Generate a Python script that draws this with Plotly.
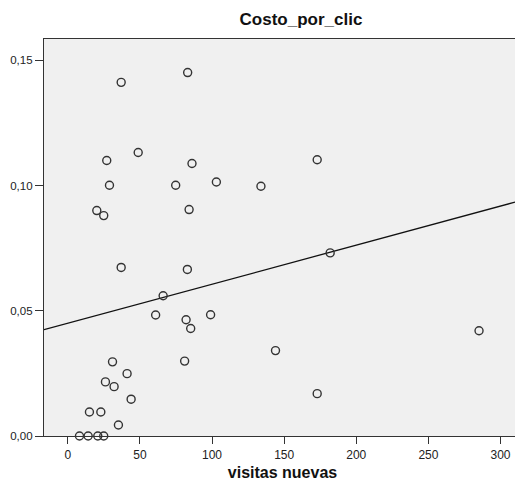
import numpy as np
import plotly.graph_objects as go

visitas_nuevas = [37.0, 83.1, 48.8, 27.0, 86.1, 103.0, 28.9, 74.8, 20.1, 24.9,
                  84.1, 37.0, 82.9, 66.1, 133.9, 172.9, 181.9, 60.9, 82.0, 85.2,
                  99.0, 81.0, 144.0, 172.9, 285.1, 31.0, 41.1, 26.1, 32.1, 43.9,
                  15.0, 22.9, 35.1, 8.1, 14.1, 20.8, 24.9]
costo_por_clic = [0.1412, 0.1451, 0.1132, 0.110, 0.1088, 0.1014, 0.1001, 0.1001, 0.090, 0.088,
                  0.0904, 0.0673, 0.0665, 0.056, 0.0997, 0.1103, 0.0731, 0.0483, 0.0464, 0.0429,
                  0.0484, 0.0299, 0.0341, 0.0169, 0.042, 0.0296, 0.0249, 0.0216, 0.0197, 0.0147,
                  0.0096, 0.0096, 0.0044, 0.0, 0.0, 0.0, 0.0]

# Linear fit line (intercept, slope)
fit_intercept = 0.0450
fit_slope = 0.000156

x_range = [-16.5, 314.2]
y_range = [0, 0.1585]
x_ticks = [0, 50, 100, 150, 200, 250, 300]
y_ticks = [0.00, 0.05, 0.10, 0.15]

line_x = np.array(x_range)
line_y = fit_intercept + fit_slope * line_x

# page body has an 8px default margin; size figure to fit the window
W, H = 515, 474

fig = go.Figure()
fig.add_trace(go.Scatter(x=line_x, y=line_y, mode="lines",
                         line=dict(color="#111111", width=1.3),
                         hoverinfo="skip", showlegend=False))
fig.add_trace(go.Scatter(x=visitas_nuevas, y=costo_por_clic, mode="markers",
                         marker=dict(symbol="circle-open", size=8,
                                     color="#333333", line=dict(width=1.4, color="#333333")),
                         showlegend=False, cliponaxis=False))

fig.update_layout(
    width=W, height=H,
    margin=dict(l=36, r=2, t=31, b=46),
    paper_bgcolor="white", plot_bgcolor="#F0F0F0",
    separators=",.",
    font=dict(family="Liberation Sans, Arial, sans-serif", color="#222222"),
    title=dict(text="<b>Costo_por_clic</b>", x=293/W, xanchor="center",
               y=1 - 11/H, yanchor="middle", font=dict(size=17, color="#111111")),
    showlegend=False,
)
fig.update_xaxes(range=x_range, tickvals=x_ticks, ticks="outside", ticklen=7,
                 tickcolor="#333333", showgrid=False, zeroline=False,
                 showline=True, linecolor="#333333", linewidth=1.2, mirror=True,
                 tickfont=dict(size=12, color="#222222"),
                 title=dict(text="<b>visitas nuevas</b>", font=dict(size=16, color="#111111"),
                            standoff=6))
fig.update_yaxes(range=y_range, tickvals=y_ticks, tickformat=".2f", ticks="outside", ticklen=8,
                 tickcolor="#333333", showgrid=False, zeroline=False,
                 showline=True, linecolor="#333333", linewidth=1.2, mirror=True,
                 tickfont=dict(size=11.5, color="#222222"))

fig.write_html("out.html")
